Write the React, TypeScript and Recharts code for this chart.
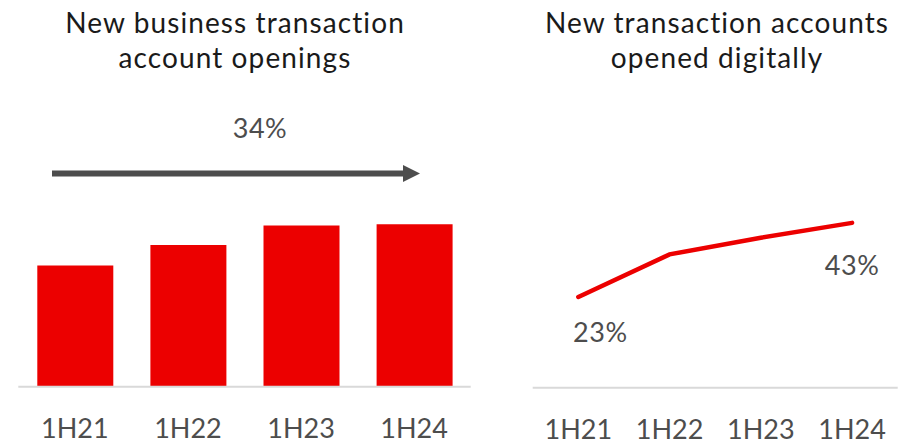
import React from "react";
import { BarChart, Bar, XAxis, YAxis, LineChart, Line, LabelList } from "recharts";

const categories = ["1H21", "1H22", "1H23", "1H24"];
const businessOpenings = [100, 117, 133, 134]; // index, 1H21 = 100
const digitalShare = [23, 34.5, 39, 43]; // % opened digitally
const digitalLabels = ["23%", "", "", "43%"];
const growthLabel = "34%";
const leftTitle = ["New business transaction", "account openings"];
const rightTitle = ["New transaction accounts", "opened digitally"];

const barData = categories.map((c, i) => ({ name: c, value: businessOpenings[i] }));
const lineData = categories.map((c, i) => ({ name: c, value: digitalShare[i], label: digitalLabels[i] }));

const RED = "#EC0000";
const GREY = "#4d4d4d";
const FONT = "Lato, 'Noto Sans', sans-serif";

const labelOffsets: Record<number, { dx: number; dy: number }> = {
  0: { dx: 22, dy: 45 },
  3: { dx: 0, dy: 52 },
};

const PointLabel = (props: any) => {
  const { x, y, index, value } = props;
  if (!value) return null;
  const o = labelOffsets[index] || { dx: 0, dy: 40 };
  return (
    <text x={x + o.dx} y={y + o.dy} textAnchor="middle" fill={GREY} fontSize={27} fontFamily={FONT} letterSpacing={0.5}>
      {value}
    </text>
  );
};

const titleStyle = (cx: number): React.CSSProperties => ({
  position: "absolute",
  left: cx - 220,
  width: 440,
  top: 5,
  textAlign: "center",
  fontFamily: FONT,
  fontSize: 28,
  lineHeight: "35px",
  letterSpacing: "1.1px",
  color: "#1a1a1a",
});

export default function App() {
  return (
    <div style={{ position: "absolute", left: 0, top: 0, width: 908, height: 444, background: "#fff", overflow: "hidden" }}>
      <div style={titleStyle(235)}>
        {leftTitle[0]}
        <br />
        {leftTitle[1]}
      </div>
      <div style={titleStyle(717)}>
        {rightTitle[0]}
        <br />
        {rightTitle[1]}
      </div>

      <div style={{ position: "absolute", left: 0, top: 0 }}>
        <BarChart width={480} height={444} data={barData} margin={{ top: 186.7, right: 9.3, left: 18.3, bottom: 0 }}>
          <XAxis
            dataKey="name"
            height={57.3}
            tickLine={false}
            tickSize={0}
            tickMargin={32.4}
            axisLine={{ stroke: "#d9d9d9", strokeWidth: 2 }}
            tick={{ fill: GREY, fontSize: 27, fontFamily: FONT }}
            interval={0}
          />
          <YAxis hide domain={[0, 165]} />
          <Bar dataKey="value" fill={RED} barSize={76} isAnimationActive={false} />
        </BarChart>
      </div>

      <svg style={{ position: "absolute", left: 0, top: 0 }} width={480} height={200}>
        <text x={260} y={138} textAnchor="middle" fill={GREY} fontSize={27} fontFamily={FONT} letterSpacing={0.5}>
          {growthLabel}
        </text>
        <line x1={52} y1={173.5} x2={405} y2={173.5} stroke={GREY} strokeWidth={6} />
        <polygon points="403,165 420,173.5 403,182" fill={GREY} />
      </svg>

      <div style={{ position: "absolute", left: 480, top: 0 }}>
        <LineChart width={428} height={444} data={lineData} margin={{ top: 187.7, right: 10.3, left: 52.7, bottom: 0 }}>
          <XAxis
            dataKey="name"
            scale="band"
            height={56.3}
            tickLine={false}
            tickSize={0}
            tickMargin={32.4}
            axisLine={{ stroke: "#d9d9d9", strokeWidth: 2 }}
            tick={{ fill: GREY, fontSize: 27, fontFamily: FONT }}
            interval={0}
          />
          <YAxis hide domain={[-1.5, 52.5]} />
          <Line
            type="linear"
            dataKey="value"
            stroke={RED}
            strokeWidth={4.5}
            strokeLinecap="round"
            dot={false}
            activeDot={false}
            isAnimationActive={false}
          >
            <LabelList dataKey="label" content={PointLabel} />
          </Line>
        </LineChart>
      </div>
    </div>
  );
}
